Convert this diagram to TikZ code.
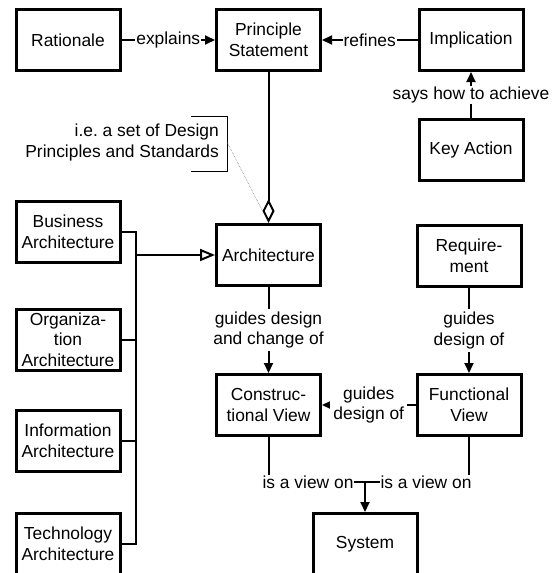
\documentclass[tikz,border=0pt]{standalone}
\usepackage{fontspec}
\setmainfont{Liberation Sans}
\usetikzlibrary{arrows.meta}
\newcommand{\diagfont}{\fontsize{17.4}{20.7}\selectfont}
\begin{document}
\begin{tikzpicture}[x=1pt,y=-1pt,
  box/.style={draw, line width=3pt, minimum width=104pt, minimum height=61pt,
    align=center, inner sep=0pt, font=\diagfont},
  conn/.style={line width=2pt},
  tip/.style={-{Triangle[length=10pt,width=9pt]}},
  gentip/.style={-{Triangle[open,length=15pt,width=12pt]}},
  aggtip/.style={-{Diamond[open,length=24pt,width=12pt]}},
  lab/.style={fill=white, inner sep=1pt, align=center, font=\diagfont},
  notebox/.style={line width=0.8pt},
]
\useasboundingbox (0,0) rectangle (557,573);

% concepts
\node[box] (rat)  at (68,40)    {Rationale};
\node[box] (ps)   at (268.5,40) {Principle\\Statement};
\node[box] (impl) at (471,40)   {Implication};
\node[box] (key)  at (471,150)  {Key Action};
\node[box] (arch) at (268.5,255) {Architecture};
\node[box] (req)  at (469,256)  {Require-\\ment};
\node[box] (biz)  at (68,232)   {Business\\Architecture};
\node[box] (org)  at (68,339.5) {Organiza-\\tion\\Architecture};
\node[box] (info) at (68,440.5) {Information\\Architecture};
\node[box] (tech) at (68,544)   {Technology\\Architecture};
\node[box] (cv)   at (268.5,405) {Construc-\\tional View};
\node[box] (fv)   at (469,405)  {Functional\\View};
\node[box] (sys)  at (365,544)  {System};

% top row relations
\draw[conn, tip] (rat) -- node[lab] {explains} (ps);
\draw[conn, tip] (impl) -- node[lab] {refines} (ps);
\draw[conn, tip] (key) -- (impl);
\node[lab] (achieve) at (471,95) {says how to achieve};

% aggregation of principles into the architecture
\draw[conn, aggtip] (ps) -- (arch);

% note on the aggregation
\node[font=\diagfont, align=right, anchor=east, inner sep=0pt] (note) at (219,142.5)
  {i.e.\ a set of Design\\Principles and Standards};
\coordinate (nTL) at (191,116);
\coordinate (nTR) at (227,116);
\coordinate (nBR) at (227,171);
\coordinate (nBL) at (191,171);
\coordinate (nHook) at (227,142);
\coordinate (diaL) at (262.5,211);
\draw[notebox] (nTL) -- (nTR) -- (nBR) -- (nBL);
\draw[line width=0.6pt, gray, densely dotted] (nHook) -- (diaL);

% specialisations of architecture
\coordinate (busx) at (136,0);
\coordinate (busA) at (136,255);
\draw[conn] (biz.east) -| (busx |- tech.east) -- (tech.east);
\draw[conn] (org.east) -- (org.east -| busx);
\draw[conn] (info.east) -- (info.east -| busx);
\draw[conn, gentip] (busA) -- (arch.west);

% views
\draw[conn, tip] (arch) -- node[lab, inner sep=3pt] {guides design\\and change of} (cv);
\draw[conn, tip] (req) -- node[lab, inner sep=3pt] {guides\\design of} (fv);
\draw[conn, tip] (fv) -- node[lab, inner sep=3pt] {guides\\design of} (cv);

% both views are views on the system
\coordinate (J) at (365,482);
\draw[conn] (cv.south) |- (J);
\draw[conn] (fv.south) |- (J);
\draw[conn, tip] (J) -- (sys.north);
\node[lab] (viewL) at (308,482) {is a view on};
\node[lab] (viewR) at (426,482) {is a view on};
\end{tikzpicture}
\end{document}
